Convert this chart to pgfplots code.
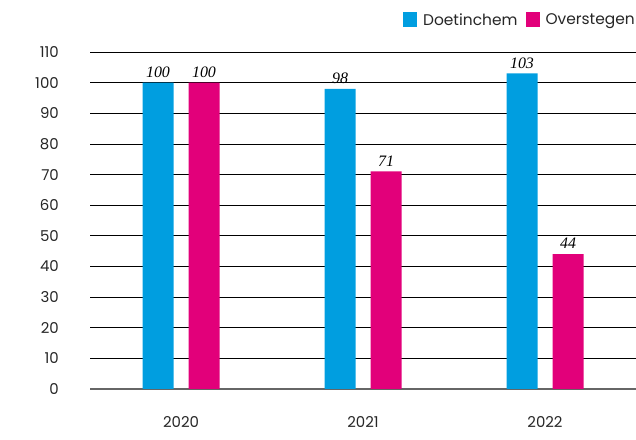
\documentclass[border=0pt]{standalone}
\usepackage{pgfplots}
\pgfplotsset{compat=1.18}
\usepackage{fontspec}
\setmainfont{Poppins}
\newfontfamily\valfont{Liberation Serif}
\definecolor{cblue}{HTML}{009EE0}
\definecolor{cpink}{HTML}{E2007A}
\begin{document}
\begin{tikzpicture}
\useasboundingbox (0,0) rectangle (636bp,440bp);
\begin{axis}[
  at={(90bp,51bp)}, anchor=south west,
  scale only axis, width=546bp, height=337bp,
  xmin=-0.5, xmax=2.5, ymin=0, ymax=110,
  ytick={0,10,...,110},
  xtick={0,1,2}, xticklabels={2020,2021,2022},
  axis x line*=bottom, axis y line*=left,
  y axis line style={draw=none},
  x axis line style={draw=black!60, line width=1.5bp},
  ymajorgrids, grid style={black, line width=0.8bp},
  major tick length=0pt,
  /pgf/number format/assume math mode=true,
  ticklabel style={font=\fontsize{15}{15}\selectfont, text=black!85},
  yticklabel style={anchor=east, inner sep=0pt, xshift=-31bp},
  xticklabel style={anchor=north, inner sep=0pt, yshift=-27bp},
  ybar, bar width=31bp,
  nodes near coords,
  every node near coord/.append style={font=\valfont\itshape\fontsize{16}{16}\selectfont, text=black, anchor=south, inner sep=0pt, yshift=5bp},
  legend columns=2,
  legend style={at={(1,1.095)}, anchor=east, xshift=1bp, draw=none, fill=none, inner sep=0pt,
    font=\fontsize{15.5}{15.5}\selectfont, text=black!85,
    /tikz/every odd column/.append style={column sep=4bp},
    /tikz/every even column/.append style={column sep=6bp}},
  legend image code/.code={\fill[#1] (0bp,-7.5bp) rectangle (14bp,7.5bp);},
]
\addplot[fill=cblue, draw=none, bar shift=-23bp] coordinates {(0,100) (1,98) (2,103)};
\addplot[fill=cpink, draw=none, bar shift=23bp] coordinates {(0,100) (1,71) (2,44)};
\legend{Doetinchem, Overstegen}
\end{axis}
\end{tikzpicture}
\end{document}
